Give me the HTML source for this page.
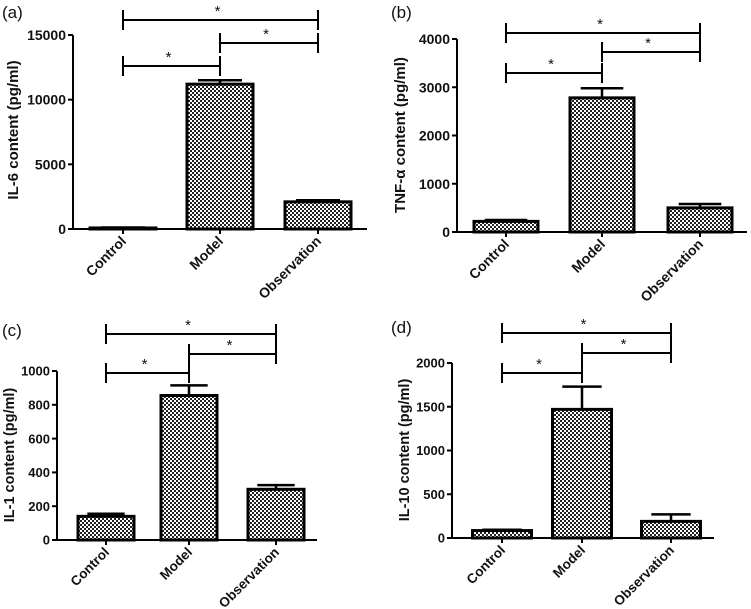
<!DOCTYPE html>
<html><head><meta charset="utf-8"><style>
html,body{margin:0;padding:0;background:#fff;}
svg{display:block;font-family:"Liberation Sans",sans-serif;}
</style></head><body>
<svg id="fig" width="751" height="609" viewBox="0 0 751 609">
<defs>
<pattern id="chk" width="4" height="4" patternUnits="userSpaceOnUse">
<rect width="4" height="4" fill="#fff"/>
<rect width="2" height="2" fill="#222"/>
<rect x="2" y="2" width="2" height="2" fill="#222"/>
</pattern>
</defs>
</svg>
<script>
const categories = ["Control","Model","Observation"];
const il6Values = [80, 11200, 2100];
const il6Errors = [40, 300, 120];
const tnfValues = [220, 2780, 500];
const tnfErrors = [30, 200, 80];
const il1Values = [140, 855, 300];
const il1Errors = [15, 60, 25];
const il10Values = [85, 1470, 190];
const il10Errors = [10, 260, 80];
const il6Ticks = [0, 5000, 10000, 15000];
const tnfTicks = [0, 1000, 2000, 3000, 4000];
const il1Ticks = [0, 200, 400, 600, 800, 1000];
const il10Ticks = [0, 500, 1000, 1500, 2000];

const NS = "http://www.w3.org/2000/svg";
const svg = document.getElementById('fig');
function mk(tag, attrs, parent){
  const e = document.createElementNS(NS, tag);
  for (const k in attrs) e.setAttribute(k, attrs[k]);
  (parent || svg).appendChild(e);
  return e;
}

const panels = [
  {id:'a', label:'(a)', title:'IL-6 content (pg/ml)', vals:il6Values, errs:il6Errors, ticks:il6Ticks,
   ax:73, axEnd:367, y0:229, yTop:35, xs:[123,220,318], bw:66, lblX:2, lblY:18, titleX:18, titleY:130,
   tf:14, xf:14, yf:15, br:[20,43,66]},
  {id:'b', label:'(b)', title:'TNF-α content (pg/ml)', vals:tnfValues, errs:tnfErrors, ticks:tnfTicks,
   ax:457, axEnd:747, y0:232, yTop:39, xs:[506,602,700], bw:64, lblX:391, lblY:18, titleX:405, titleY:135,
   tf:14, xf:14, yf:15, br:[33,52,73]},
  {id:'c', label:'(c)', title:'IL-1 content (pg/ml)', vals:il1Values, errs:il1Errors, ticks:il1Ticks,
   ax:57, axEnd:317, y0:540, yTop:371, xs:[106,189,276], bw:56, lblX:2, lblY:336, titleX:14, titleY:455,
   tf:13, xf:13.5, yf:14.5, br:[334,354,373]},
  {id:'d', label:'(d)', title:'IL-10 content (pg/ml)', vals:il10Values, errs:il10Errors, ticks:il10Ticks,
   ax:452, axEnd:714, y0:538, yTop:363, xs:[502,582,671], bw:59, lblX:391, lblY:333, titleX:409, titleY:450,
   tf:13, xf:13.5, yf:14.5, br:[333,353,373]}
];

panels.forEach(p => {
  const g = mk('g', {});
  
  
  const maxT = p.ticks[p.ticks.length-1];
  const yS = v => p.y0 - (v / maxT) * (p.y0 - p.yTop);

  const lab = mk('text', {x:p.lblX, y:p.lblY, 'font-size':17, fill:'#111'}, g);
  lab.textContent = p.label;
  
  

  const yt = mk('text', {x:p.titleX, y:p.titleY, 'font-size':p.yf, 'font-weight':'bold', 'text-anchor':'middle', transform:`rotate(-90 ${p.titleX} ${p.titleY})`, fill:'#111'}, g);
  yt.textContent = p.title;
  
  

  p.vals.forEach((v, i) => {
    const x = p.xs[i] - p.bw/2;
    const b = mk('rect', {x:x, y:yS(v), width:p.bw, height:p.y0 - yS(v), fill:'url(#chk)', stroke:'#000', 'stroke-width':3}, g);
    
    
    const top = yS(v + p.errs[i]);
    const e = mk('path', {d:`M${p.xs[i]} ${yS(v)} V${top} M${p.xs[i]-p.bw/3} ${top} H${p.xs[i]+p.bw/3}`, stroke:'#000', 'stroke-width':2.5, fill:'none'}, g);
    
    
  });

  const ya = mk('line', {x1:p.ax, y1:p.yTop, x2:p.ax, y2:p.y0, stroke:'#000', 'stroke-width':2}, g);
  
  
  const xa = mk('line', {x1:p.ax, y1:p.y0, x2:p.axEnd, y2:p.y0, stroke:'#000', 'stroke-width':2}, g);
  
  

  p.ticks.forEach(t => {
    const y = yS(t);
    mk('line', {x1:p.ax-5, y1:y, x2:p.ax, y2:y, stroke:'#000', 'stroke-width':2}, g);
    const tl = mk('text', {x:p.ax-7, y:y + p.tf*0.36, 'font-size':p.tf, 'font-weight':'bold', 'text-anchor':'end', fill:'#111'}, g);
    tl.textContent = t;
    
    
  });

  categories.forEach((c, i) => {
    const x = p.xs[i];
    mk('line', {x1:x, y1:p.y0, x2:x, y2:p.y0+5, stroke:'#000', 'stroke-width':2}, g);
    const lx = x + 4, ly = p.y0 + 13;
    const xl = mk('text', {x:lx, y:ly, 'font-size':p.xf, 'font-weight':'bold', 'text-anchor':'end', transform:`rotate(-45 ${lx} ${ly})`, fill:'#111'}, g);
    xl.textContent = c;
    
    
  });

  const pairs = [[0,2],[1,2],[0,1]];
  pairs.forEach((pr, k) => {
    const y = p.br[k];
    const x1 = p.xs[pr[0]], x2 = p.xs[pr[1]];
    const br = mk('path', {d:`M${x1} ${y-10} V${y+10} M${x1} ${y} H${x2} M${x2} ${y-10} V${y+10}`, stroke:'#000', 'stroke-width':2, fill:'none'}, g);
    
    
    const st = mk('text', {x:(x1+x2)/2 - 3, y:y-4, 'font-size':15, 'text-anchor':'middle', fill:'#111'}, g);
    st.textContent = '*';
    
    
  });
});
</script>
</body></html>
